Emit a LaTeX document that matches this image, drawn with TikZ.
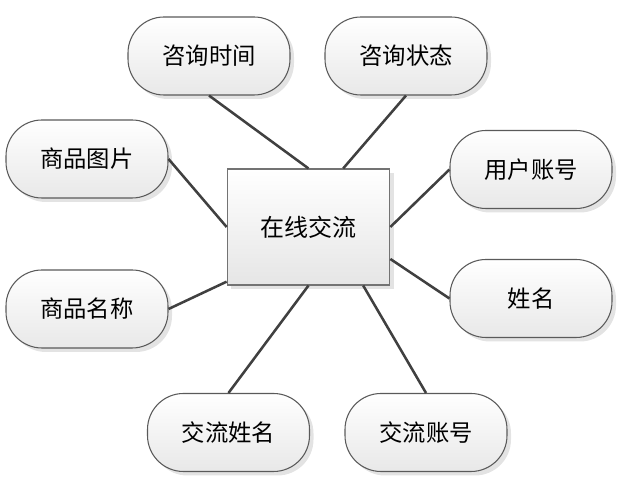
\documentclass[tikz,border=0pt]{standalone}
\usepackage{fontspec}
\newfontfamily\cjk{Noto Sans CJK SC}
\usetikzlibrary{shadows,calc}
\definecolor{linec}{HTML}{404040}
\definecolor{borderc}{HTML}{5A5A5A}
\tikzset{
  attr/.style={draw=borderc, line width=0.8pt, rounded corners=27pt,
    top color=white, bottom color=black!9,
    minimum width=121.5pt, minimum height=58.5pt, inner sep=0pt,
    font=\cjk\fontsize{17.5}{20}\selectfont,
    drop shadow={shadow xshift=3pt, shadow yshift=-3pt, fill=black!18, opacity=0.6}},
  entity/.style={draw=black!55, line width=0.8pt,
    top color=white, bottom color=black!10,
    minimum width=122pt, minimum height=87pt, inner sep=0pt,
    font=\cjk\fontsize{18}{21}\selectfont,
    drop shadow={shadow xshift=3pt, shadow yshift=-3pt, fill=black!18, opacity=0.6}},
  conn/.style={draw=linec, line width=1.9pt}
}
\begin{document}
\begin{tikzpicture}[x=0.75pt,y=-0.75pt]
\useasboundingbox (0,0) rectangle (619,484);
\node[entity] (c) at (308.5,227) {在线交流};
\node[attr] (t1) at (209,56) {咨询时间};
\node[attr] (t2) at (406,56) {咨询状态};
\node[attr] (l1) at (87,159) {商品图片};
\node[attr] (l2) at (87,309) {商品名称};
\node[attr] (r1) at (531,169.5) {用户账号};
\node[attr] (r2) at (531,298.5) {姓名};
\node[attr] (b1) at (228.5,432.5) {交流姓名};
\node[attr] (b2) at (426,432.5) {交流账号};
\coordinate (cn2) at ($(c.north)+(26pt,0)$);
\coordinate (cw2) at ($(c.west)+(0,-41pt)$);
\coordinate (ce2) at ($(c.east)+(0,-24pt)$);
\coordinate (cs2) at ($(c.south)+(41pt,0)$);
\draw[conn] (t1.south) -- (c.north);
\draw[conn] (t2.south) -- (cn2);
\draw[conn] (l1.east) -- (c.west);
\draw[conn] (l2.east) -- (cw2);
\draw[conn] (r1.west) -- (c.east);
\draw[conn] (r2.west) -- (ce2);
\draw[conn] (b1.north) -- (c.south);
\draw[conn] (b2.north) -- (cs2);
\end{tikzpicture}
\end{document}
